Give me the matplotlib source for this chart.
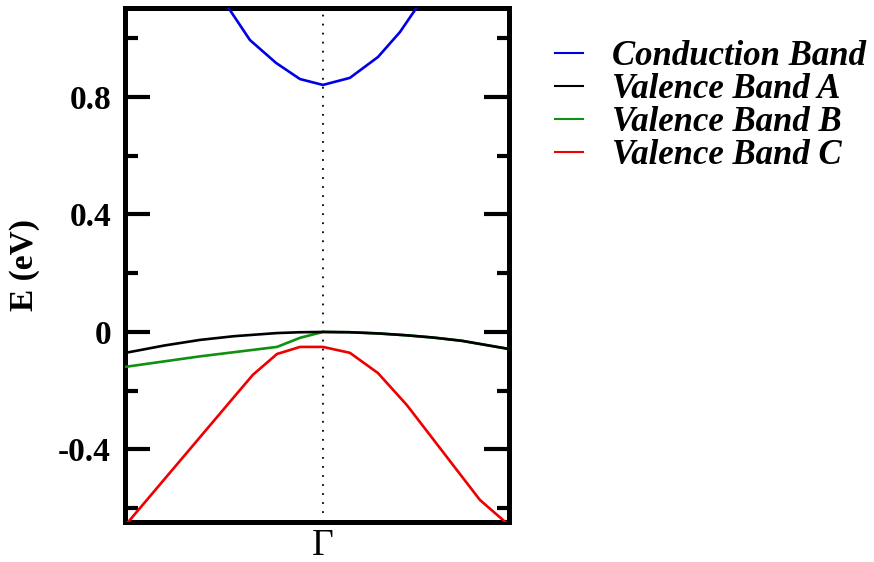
import matplotlib
matplotlib.use("Agg")
import matplotlib.pyplot as plt
from matplotlib.ticker import MultipleLocator

# k-path coordinate (Gamma at 0) and band energies in eV
k_cb = [-0.60, -0.470, -0.369, -0.237, -0.116, 0.0, 0.136, 0.278, 0.389, 0.465, 0.60]
e_cb = [1.22, 1.096, 0.994, 0.916, 0.861, 0.841, 0.865, 0.936, 1.021, 1.096, 1.22]

k_va = [-1.0, -0.80, -0.62, -0.45, -0.232, -0.116, 0.0, 0.136, 0.278, 0.424, 0.556, 0.70, 0.94]
e_va = [-0.0715, -0.046, -0.027, -0.0145, -0.0038, -0.001, 0.0, -0.001, -0.005, -0.0115, -0.019, -0.030, -0.058]

k_vb = [-1.0, -0.62, -0.232, -0.116, 0.0, 0.136, 0.278, 0.424, 0.556, 0.70, 0.94]
e_vb = [-0.119, -0.083, -0.051, -0.020, 0.0, -0.001, -0.005, -0.0115, -0.019, -0.030, -0.058]

k_vc = [-1.0, -0.47, -0.354, -0.232, -0.116, 0.0, 0.136, 0.278, 0.424, 0.793, 0.904, 0.96]
e_vc = [-0.66, -0.238, -0.146, -0.075, -0.051, -0.051, -0.071, -0.140, -0.249, -0.572, -0.637, -0.67]

band_labels = ["Conduction Band", "Valence Band A", "Valence Band B", "Valence Band C"]
k_gamma = 0.0
k_label = "\u0393"

plt.rcParams["font.family"] = ["Liberation Serif", "DejaVu Serif"]

fig = plt.figure(figsize=(8.74, 5.62), dpi=100)
ax = fig.add_axes([0.143, 0.0712, 0.4394, 0.9146])

lw = 1.9
l_cb, = ax.plot(k_cb, e_cb, color="#0000e6", lw=lw, zorder=3)
l_vb, = ax.plot(k_vb, e_vb, color="#109010", lw=lw, zorder=3)
l_va, = ax.plot(k_va, e_va, color="black", lw=lw, zorder=4)
l_vc, = ax.plot(k_vc, e_vc, color="#ee0000", lw=lw, zorder=3)

ax.axvline(k_gamma, color="black", lw=1.3, ls=(0, (1, 4)), zorder=2)

ax.set_xlim(-1.0, 0.94)
ax.set_ylim(-0.647, 1.103)

ax.set_xticks([k_gamma])
ax.set_xticklabels([k_label], fontsize=27)
ax.tick_params(axis="x", length=0, pad=5)

ax.yaxis.set_major_locator(MultipleLocator(0.4))
ax.yaxis.set_minor_locator(MultipleLocator(0.2))
ax.set_yticks([-0.4, 0.0, 0.4, 0.8])
ax.set_yticklabels(["-0.4", "0", "0.4", "0.8"])
ax.tick_params(axis="y", which="major", direction="in", length=18, width=3,
               left=True, right=True, labelsize=24, pad=10)
ax.tick_params(axis="y", which="minor", direction="in", length=9, width=3,
               left=True, right=True)
for t in ax.get_yticklabels():
    t.set_fontweight("bold")

for s in ax.spines.values():
    s.set_linewidth(3.6)

ax.set_ylabel("E (eV)", fontsize=24, fontweight="bold", labelpad=13)

fig.legend([l_cb, l_va, l_vb, l_vc], band_labels, loc="upper left",
           bbox_to_anchor=(0.635, 0.929), frameon=False, borderpad=0,
           borderaxespad=0, handlelength=0.8, handletextpad=0.85,
           labelspacing=0.0,
           prop={"family": "Liberation Serif", "style": "italic",
                 "weight": "bold", "size": 25})
for h in fig.legends[0].get_lines():
    h.set_linewidth(1.5)

fig.savefig("out.png", dpi=100)
